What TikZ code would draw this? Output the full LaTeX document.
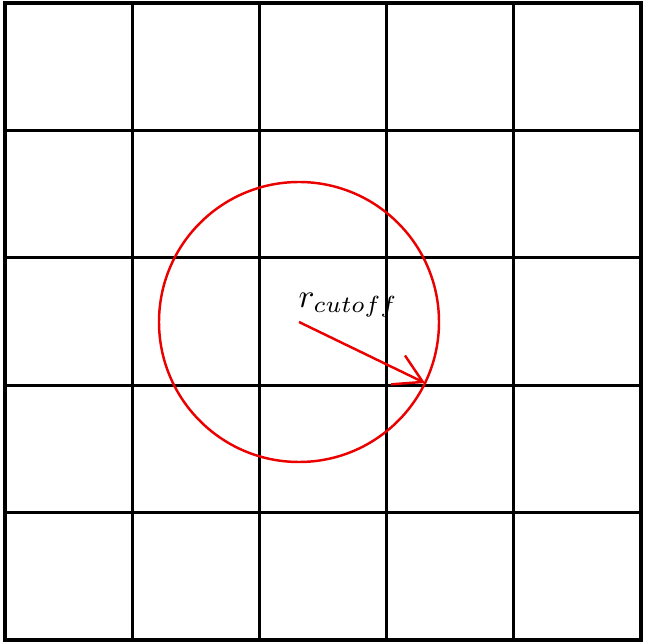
\documentclass[tikz,border=0pt]{standalone}
\usetikzlibrary{arrows.meta}
\begin{document}
\begin{tikzpicture}[
  x=0.02cm, y=-0.02cm,
  gridline/.style={line width=1.7pt, black},
  frame/.style={line width=2.8pt, black},
  cutoff/.style={line width=1.4pt, red!92!black},
  radarr/.style={cutoff, -{Straight Barb[length=0.55cm, width=0.64cm, line width=1.4pt]}},
  lbl/.style={inner sep=0pt, scale=1.9, anchor=south west}
]
\useasboundingbox (0,0) rectangle (646,644);

% Grid: 5x5 cells between x=5..641 and y=3..640
\def\gx{127.2}
\def\gy{127.4}
\foreach \k in {1,...,4}{
  \draw[gridline] (5+\gx*\k, 3) -- (5+\gx*\k, 640);
  \draw[gridline] (5, 3+\gy*\k) -- (641, 3+\gy*\k);
}
\draw[frame] (5,3) rectangle (641,640);

% Cutoff circle and radius
\coordinate (centre) at (299,322);
\coordinate (rim) at (425,383);
\draw[cutoff] (centre) circle[radius=140];
\draw[radarr] (centre) -- (rim);
\node[lbl] (rlabel) at (298,318) {$r_{cutoff}$};

\end{tikzpicture}
\end{document}
